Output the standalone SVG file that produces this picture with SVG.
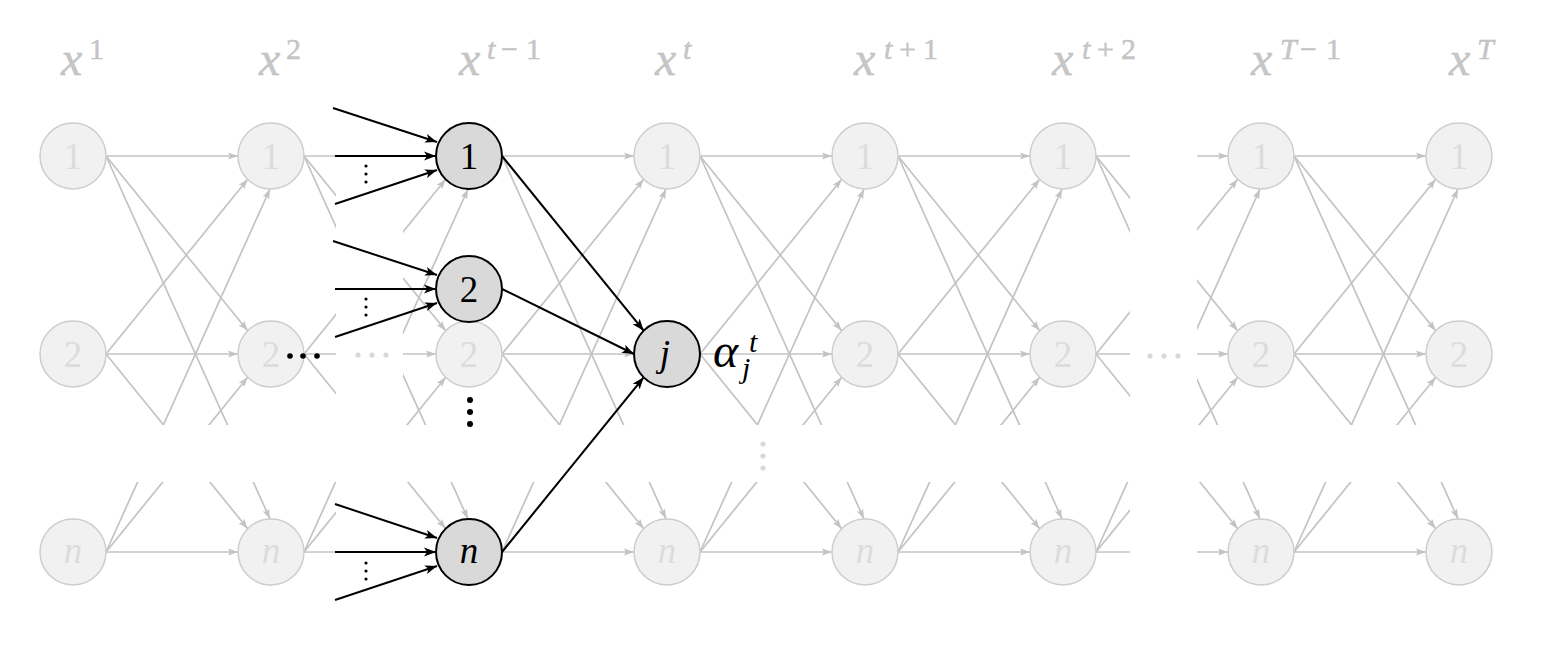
<svg xmlns="http://www.w3.org/2000/svg" xmlns:xlink="http://www.w3.org/1999/xlink" width="1561" height="651" viewBox="0 0 1561 651">
<style>
.ge{stroke:#c3c3c3;stroke-width:1.7;fill:none;marker-end:url(#ga)}
.be{stroke:#000;stroke-width:2;fill:none;marker-end:url(#ba)}
.gn circle{fill:#f1f1f1;stroke:#cdcdcd;stroke-width:1.5}
.gn text{fill:#dcdcdc;font-family:"Liberation Serif","Times New Roman","DejaVu Serif",serif;font-size:37px;text-anchor:middle}
.dn circle{fill:#d9d9d9;stroke:#000;stroke-width:2}
.dn text{fill:#000;font-family:"Liberation Serif","Times New Roman","DejaVu Serif",serif;font-size:37px;text-anchor:middle}
.it{font-style:italic}
.lab{fill:#c6c6c6;stroke:#bdbdbd;stroke-width:0.4;font-family:"Liberation Serif","Times New Roman","DejaVu Serif",serif}
.lab .x{font-size:48px;font-style:italic}
.lab .s{font-size:30px}
.al{fill:#000;font-family:"Liberation Serif","Times New Roman","DejaVu Serif",serif;font-style:italic}
.gd{fill:#d8d8d8}
</style>
<defs>
<marker id="ga" markerUnits="userSpaceOnUse" markerWidth="10" markerHeight="8" refX="10" refY="4" orient="auto">
<path d="M0,0.5 L10,4 L0,7.5 L2,4 z" fill="#c3c3c3"/>
</marker>
<marker id="ba" markerUnits="userSpaceOnUse" markerWidth="12" markerHeight="10" refX="12" refY="5" orient="auto">
<path d="M0,0.5 L12,5 L0,9.5 L3,5 z" fill="#000"/>
</marker>
<clipPath id="gaps" clipPathUnits="userSpaceOnUse">
<rect x="0" y="0" width="336" height="425"/>
<rect x="403" y="0" width="727" height="425"/>
<rect x="1197" y="0" width="364" height="425"/>
<rect x="0" y="482" width="336" height="169"/>
<rect x="403" y="482" width="727" height="169"/>
<rect x="1197" y="482" width="364" height="169"/>
</clipPath>
<g id="pair">
<line class="ge" x1="106" y1="156" x2="238" y2="156"/>
<line class="ge" x1="106" y1="156" x2="247.7" y2="330.7"/>
<line class="ge" x1="106" y1="156" x2="270" y2="519"/>
<line class="ge" x1="106" y1="354" x2="247.7" y2="179.3"/>
<line class="ge" x1="106" y1="354" x2="238" y2="354"/>
<line class="ge" x1="106" y1="354" x2="247.7" y2="528.7"/>
<line class="ge" x1="106" y1="552" x2="270" y2="189"/>
<line class="ge" x1="106" y1="552" x2="247.7" y2="377.3"/>
<line class="ge" x1="106" y1="552" x2="238" y2="552"/>
</g>
</defs>

<g id="labels" class="lab">
<text x="61" y="75"><tspan class="x">x</tspan><tspan class="s" x="89" y="59">1</tspan></text>
<text x="259" y="75"><tspan class="x">x</tspan><tspan class="s" x="286" y="59">2</tspan></text>
<text x="459" y="75"><tspan class="x">x</tspan><tspan class="s it" x="487" y="59">t</tspan><tspan class="s" x="501" y="59">−</tspan><tspan class="s" x="526" y="59">1</tspan></text>
<text x="655" y="75"><tspan class="x">x</tspan><tspan class="s it" x="683" y="59">t</tspan></text>
<text x="854" y="75"><tspan class="x">x</tspan><tspan class="s it" x="884" y="59">t</tspan><tspan class="s" x="899" y="59">+</tspan><tspan class="s" x="923" y="59">1</tspan></text>
<text x="1052" y="75"><tspan class="x">x</tspan><tspan class="s it" x="1082" y="59">t</tspan><tspan class="s" x="1097" y="59">+</tspan><tspan class="s" x="1121" y="59">2</tspan></text>
<text x="1251" y="75"><tspan class="x">x</tspan><tspan class="s it" x="1280" y="59">T</tspan><tspan class="s" x="1300" y="59">−</tspan><tspan class="s" x="1326" y="59">1</tspan></text>
<text x="1449" y="75"><tspan class="x">x</tspan><tspan class="s it" x="1477" y="59">T</tspan></text>
</g>

<g id="connectors-gray" clip-path="url(#gaps)">
<use href="#pair" xlink:href="#pair" x="0"/>
<use href="#pair" xlink:href="#pair" x="198"/>
<use href="#pair" xlink:href="#pair" x="396"/>
<use href="#pair" xlink:href="#pair" x="594"/>
<use href="#pair" xlink:href="#pair" x="792"/>
<use href="#pair" xlink:href="#pair" x="990"/>
<use href="#pair" xlink:href="#pair" x="1188"/>
</g>

<g id="gap-dots">
<circle class="gd" cx="358" cy="355" r="2.6"/>
<circle class="gd" cx="372" cy="355" r="2.6"/>
<circle class="gd" cx="386" cy="355" r="2.6"/>
<circle class="gd" cx="1150" cy="356" r="2.6"/>
<circle class="gd" cx="1164" cy="356" r="2.6"/>
<circle class="gd" cx="1178" cy="356" r="2.6"/>
<circle class="gd" cx="763" cy="444" r="2.6"/>
<circle class="gd" cx="763" cy="456" r="2.6"/>
<circle class="gd" cx="763" cy="468" r="2.6"/>
</g>

<g id="col1" class="gn">
<g id="n-1-1"><circle cx="73" cy="156" r="33"/><text x="73" y="169">1</text></g>
<g id="n-1-2"><circle cx="73" cy="354" r="33"/><text x="73" y="367">2</text></g>
<g id="n-1-n"><circle cx="73" cy="552" r="33"/><text class="it" x="73" y="563">n</text></g>
</g>
<g id="col2" class="gn">
<g id="n-2-1"><circle cx="271" cy="156" r="33"/><text x="271" y="169">1</text></g>
<g id="n-2-2"><circle cx="271" cy="354" r="33"/><text x="271" y="367">2</text></g>
<g id="n-2-n"><circle cx="271" cy="552" r="33"/><text class="it" x="271" y="563">n</text></g>
</g>
<g id="colt-1" class="gn">
<g id="n-tm1-2"><circle cx="469" cy="354" r="33"/><text x="469" y="367">2</text></g>
</g>
<g id="colt" class="gn">
<g id="n-t-1"><circle cx="667" cy="156" r="33"/><text x="667" y="169">1</text></g>
<g id="n-t-n"><circle cx="667" cy="552" r="33"/><text class="it" x="667" y="563">n</text></g>
</g>
<g id="colt1" class="gn">
<g id="n-tp1-1"><circle cx="865" cy="156" r="33"/><text x="865" y="169">1</text></g>
<g id="n-tp1-2"><circle cx="865" cy="354" r="33"/><text x="865" y="367">2</text></g>
<g id="n-tp1-n"><circle cx="865" cy="552" r="33"/><text class="it" x="865" y="563">n</text></g>
</g>
<g id="colt2" class="gn">
<g id="n-tp2-1"><circle cx="1063" cy="156" r="33"/><text x="1063" y="169">1</text></g>
<g id="n-tp2-2"><circle cx="1063" cy="354" r="33"/><text x="1063" y="367">2</text></g>
<g id="n-tp2-n"><circle cx="1063" cy="552" r="33"/><text class="it" x="1063" y="563">n</text></g>
</g>
<g id="colT-1" class="gn">
<g id="n-Tm1-1"><circle cx="1261" cy="156" r="33"/><text x="1261" y="169">1</text></g>
<g id="n-Tm1-2"><circle cx="1261" cy="354" r="33"/><text x="1261" y="367">2</text></g>
<g id="n-Tm1-n"><circle cx="1261" cy="552" r="33"/><text class="it" x="1261" y="563">n</text></g>
</g>
<g id="colT" class="gn">
<g id="n-T-1"><circle cx="1459" cy="156" r="33"/><text x="1459" y="169">1</text></g>
<g id="n-T-2"><circle cx="1459" cy="354" r="33"/><text x="1459" y="367">2</text></g>
<g id="n-T-n"><circle cx="1459" cy="552" r="33"/><text class="it" x="1459" y="563">n</text></g>
</g>

<g id="connectors-black">
<line class="be" x1="333" y1="108" x2="437" y2="142"/>
<line class="be" x1="335" y1="156" x2="436" y2="156"/>
<line class="be" x1="335" y1="204" x2="437" y2="170"/>
<line class="be" x1="333" y1="241" x2="437" y2="275"/>
<line class="be" x1="335" y1="289" x2="436" y2="289"/>
<line class="be" x1="335" y1="337" x2="437" y2="303"/>
<line class="be" x1="335" y1="504" x2="437" y2="538"/>
<line class="be" x1="335" y1="552" x2="436" y2="552"/>
<line class="be" x1="335" y1="600" x2="437" y2="566"/>
<line class="be" x1="502" y1="156" x2="643.7" y2="330.7"/>
<line class="be" x1="502" y1="289" x2="634" y2="354"/>
<line class="be" x1="502" y1="552" x2="643.7" y2="377.3"/>
</g>

<g id="black-dots">
<circle cx="366" cy="166" r="1.6"/><circle cx="366" cy="174" r="1.6"/><circle cx="366" cy="182" r="1.6"/>
<circle cx="366" cy="299" r="1.6"/><circle cx="366" cy="307" r="1.6"/><circle cx="366" cy="315" r="1.6"/>
<circle cx="366" cy="563" r="1.6"/><circle cx="366" cy="571" r="1.6"/><circle cx="366" cy="579" r="1.6"/>
<circle cx="290" cy="356" r="2.8"/><circle cx="303" cy="356" r="2.8"/><circle cx="317" cy="356" r="2.8"/>
<circle cx="470" cy="400" r="3"/><circle cx="470" cy="412" r="3"/><circle cx="470" cy="424" r="3"/>
</g>

<g id="dark-nodes" class="dn">
<g id="d-tm1-1"><circle cx="469" cy="156" r="33"/><text x="469" y="169">1</text></g>
<g id="d-tm1-2"><circle cx="469" cy="289" r="33"/><text x="469" y="302">2</text></g>
<g id="d-tm1-n"><circle cx="469" cy="552" r="33"/><text class="it" x="469" y="563">n</text></g>
<g id="d-t-j"><circle cx="667" cy="354" r="33"/><text class="it" x="665" y="366">j</text></g>
</g>

<g id="alpha">
<text class="al"><tspan font-size="48" x="713" y="367">α</tspan><tspan font-size="30" x="749" y="352">t</tspan><tspan font-size="30" x="742" y="378">j</tspan></text>
</g>
</svg>
